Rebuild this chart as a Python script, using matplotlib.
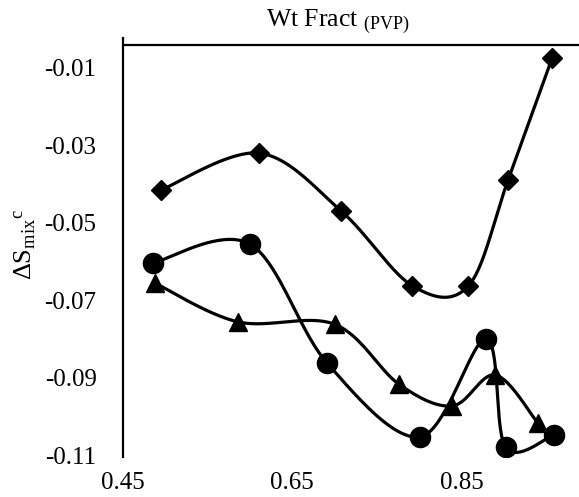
import numpy as np
import matplotlib
matplotlib.use("Agg")
import matplotlib.pyplot as plt

plt.rcParams['font.family'] = ['Liberation Serif', 'DejaVu Serif']
plt.rcParams['mathtext.fontset'] = 'custom'
plt.rcParams['mathtext.rm'] = 'Liberation Serif'
plt.rcParams['mathtext.it'] = 'Liberation Serif:italic'

# Entropy of mixing vs PVP weight fraction, three series
x_diamond = [0.495, 0.611, 0.708, 0.792, 0.858, 0.905, 0.957]
y_diamond = [-0.0415, -0.0320, -0.0470, -0.0663, -0.0663, -0.0389, -0.0074]

x_circle = [0.485, 0.600, 0.691, 0.801, 0.879, 0.902, 0.959]
y_circle = [-0.0604, -0.0555, -0.0862, -0.1053, -0.0800, -0.1080, -0.1048]

x_triangle = [0.488, 0.586, 0.700, 0.776, 0.839, 0.890, 0.940]
y_triangle = [-0.0656, -0.0756, -0.0762, -0.0917, -0.0973, -0.0893, -0.1017]

x_ticks = [0.45, 0.65, 0.85]
y_ticks = [-0.11, -0.09, -0.07, -0.05, -0.03, -0.01]


def smooth(xs, ys, n=40):
    """Piecewise cubic Bezier through the points (Catmull-Rom style)."""
    p = np.column_stack([xs, ys]).astype(float)
    ext = np.vstack([p[0], p, p[-1]])
    out = []
    t = np.linspace(0, 1, n)[:, None]
    for i in range(1, len(ext) - 2):
        p0, p3 = ext[i], ext[i + 1]
        c1 = p0 + (ext[i + 1] - ext[i - 1]) / 6.0
        c2 = p3 - (ext[i + 2] - ext[i]) / 6.0
        seg = ((1 - t) ** 3) * p0 + 3 * ((1 - t) ** 2) * t * c1 \
            + 3 * (1 - t) * t ** 2 * c2 + t ** 3 * p3
        out.append(seg if i == 1 else seg[1:])
    seg = np.vstack(out)
    return seg[:, 0], seg[:, 1]


fig = plt.figure(figsize=(5.79, 4.97), dpi=100)
ax = fig.add_axes([123 / 579, 40 / 497, 456 / 579, 419 / 497])
ax.set_xlim(0.45, 0.9887)
ax.set_ylim(-0.1105, -0.00225)

series = [
    (x_diamond, y_diamond, 'D', 10),
    (x_circle, y_circle, 'o', 14.5),
    (x_triangle, y_triangle, '^', 13.5),
]
for xs, ys, mk, ms in series:
    sx, sy = smooth(xs, ys)
    ax.plot(sx, sy, color='black', lw=2.3, solid_capstyle='round', zorder=2)
    ax.plot(xs, ys, linestyle='none', marker=mk, ms=ms, color='black', zorder=3)

ax.axhline(-0.00406, color='black', lw=1.6, zorder=1)

for side in ['top', 'right', 'bottom']:
    ax.spines[side].set_visible(False)
ax.spines['left'].set_linewidth(1.6)

ax.set_xticks(x_ticks)
ax.set_xticklabels(['0.45', '0.65', '0.85'])
ax.set_yticks(y_ticks)
ax.set_yticklabels(['-0.11', '-0.09', '-0.07', '-0.05', '-0.03', '-0.01'])
ax.tick_params(axis='both', length=0, labelsize=18)
ax.tick_params(axis='y', pad=19)
ax.tick_params(axis='x', pad=11)

fig.text(338 / 579, 1 - 22 / 497, r'Wt Fract $_{\mathrm{(PVP)}}$',
         ha='center', va='center', fontsize=18.5)
fig.text(25 / 579, 1 - 244 / 497,
         r'$\mathrm{\Delta S}_{\mathrm{mix}}{}^{\mathrm{c}}$',
         ha='center', va='center', rotation=90, fontsize=19)

fig.savefig('out.png', dpi=100)
